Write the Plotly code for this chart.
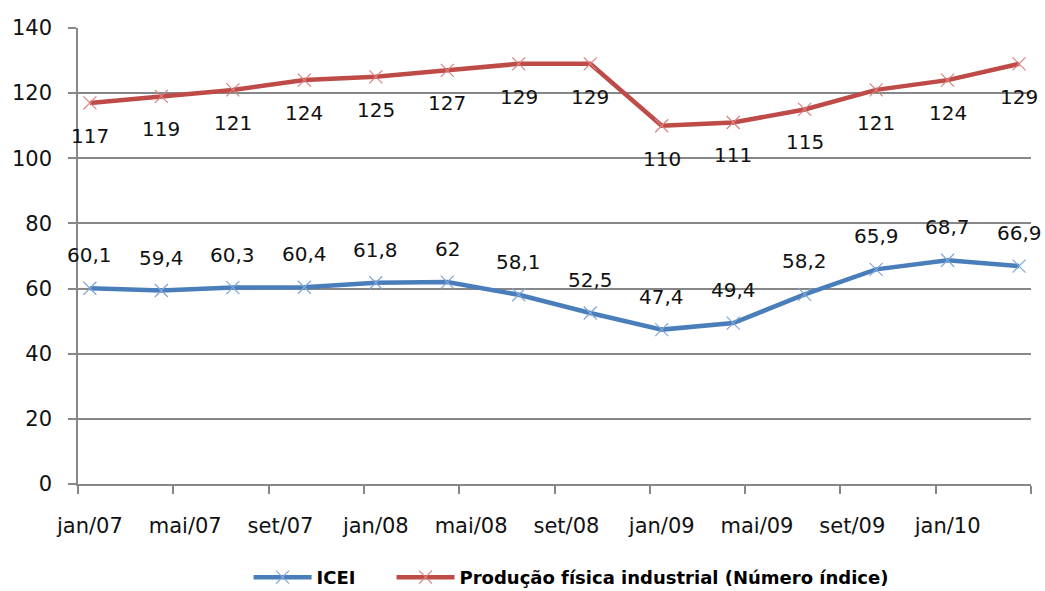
import plotly.graph_objects as go

# Quarterly observations, Jan/2007 - Apr/2010
months = ["jan/07", "abr/07", "jul/07", "out/07", "jan/08", "abr/08", "jul/08",
          "out/08", "jan/09", "abr/09", "jul/09", "out/09", "jan/10", "abr/10"]
month_index = [0, 3, 6, 9, 12, 15, 18, 21, 24, 27, 30, 33, 36, 39]

icei = [60.1, 59.4, 60.3, 60.4, 61.8, 62, 58.1, 52.5, 47.4, 49.4, 58.2, 65.9, 68.7, 66.9]
producao = [117, 119, 121, 124, 125, 127, 129, 129, 110, 111, 115, 121, 124, 129]

tick_labels = ["jan/07", "mai/07", "set/07", "jan/08", "mai/08", "set/08",
               "jan/09", "mai/09", "set/09", "jan/10"]
tick_months = [0, 4, 8, 12, 16, 20, 24, 28, 32, 36]

y_ticks = [0, 20, 40, 60, 80, 100, 120, 140]

BLUE = "#4A7EBB"
RED = "#BE4B48"
FONT = "DejaVu Sans"

# each point sits in the middle of its month slot
xs = [m + 0.5 for m in month_index]


def fmt(v):
    return (f"{v:.1f}".replace(".", ",")) if v != int(v) else str(int(v))


fig = go.Figure()
fig.add_trace(go.Scatter(
    x=xs, y=icei, name="ICEI", mode="lines+markers", legend="legend",
    line=dict(color=BLUE, width=4.5),
    marker=dict(symbol="x-thin", size=13, color=BLUE, line=dict(color="#7FA6D8", width=1.2)),
))
fig.add_trace(go.Scatter(
    x=xs, y=producao, name="Produção física industrial (Número índice)",
    mode="lines+markers", legend="legend2",
    line=dict(color=RED, width=4.5),
    marker=dict(symbol="x-thin", size=13, color=RED, line=dict(color="#DC7F7D", width=1.2)),
))

annotations = []
for x, v in zip(xs, icei):
    annotations.append(dict(x=x, y=v, text=fmt(v), showarrow=False, yshift=33,
                            font=dict(family=FONT, size=20, color="#111")))
for x, v in zip(xs, producao):
    annotations.append(dict(x=x, y=v, text=fmt(v), showarrow=False, yshift=-33,
                            font=dict(family=FONT, size=20, color="#111")))

legend_font = dict(family=FONT, size=18, color="black", weight="bold")
fig.update_layout(
    width=1045, height=591,
    margin=dict(l=78, r=14, t=28, b=107, autoexpand=False),
    paper_bgcolor="white", plot_bgcolor="white",
    font=dict(family=FONT, size=20, color="#111"),
    showlegend=True,
    legend=dict(orientation="h", x=0.179, xanchor="left", y=-0.205, yanchor="middle",
                font=legend_font, itemwidth=58),
    legend2=dict(orientation="h", x=0.329, xanchor="left", y=-0.205, yanchor="middle",
                 font=legend_font, itemwidth=58),
    annotations=annotations,
)

fig.update_xaxes(
    range=[0, 40], automargin=False,
    tickmode="array", tickvals=[m + 0.5 for m in tick_months], ticktext=tick_labels,
    ticks="", ticklabelstandoff=22,
    showgrid=False, zeroline=False,
    showline=True, linecolor="#878787", linewidth=2,
    minor=dict(tickmode="linear", tick0=0, dtick=4, ticks="outside", ticklen=8,
               tickwidth=2, tickcolor="#878787", showgrid=False),
    tickfont=dict(family=FONT, size=21, color="#111"),
)
fig.update_yaxes(
    range=[0, 140], tickmode="array", tickvals=y_ticks, automargin=False,
    ticks="outside", ticklen=8, tickwidth=2, tickcolor="#878787",
    ticklabelstandoff=12,
    showgrid=True, gridcolor="#878787", gridwidth=2,
    zeroline=False, showline=True, linecolor="#878787", linewidth=1.5,
    tickfont=dict(family=FONT, size=21, color="#111"),
)

fig.write_html("out.html")
